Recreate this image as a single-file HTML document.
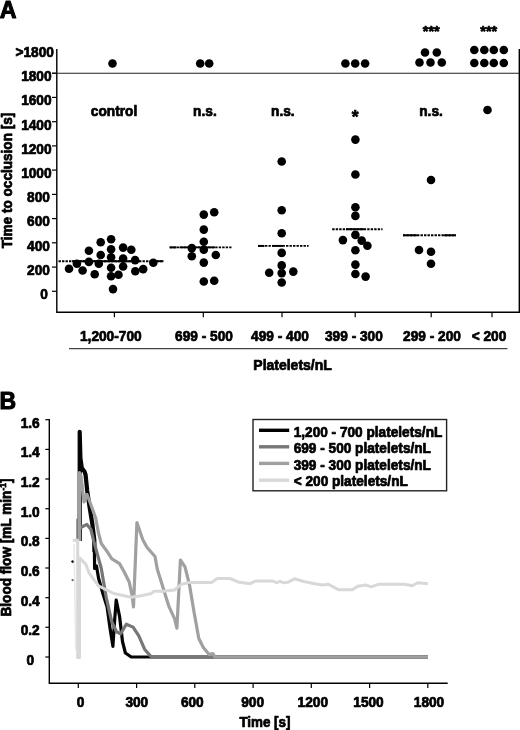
<!DOCTYPE html>
<html lang="en"><head><meta charset="utf-8"><title>Figure</title>
<style>
html,body{margin:0;padding:0;background:#fff;}
body{width:520px;height:730px;overflow:hidden;}
svg{display:block;}
text{font-family:"Liberation Sans",Arial,Helvetica,sans-serif;font-weight:bold;fill:#000;stroke:#000;stroke-width:0.7px;stroke-linejoin:round;}
.t{font-size:13.7px;}
.big{font-size:24px;stroke-width:1px;}
.ax{stroke:#000;stroke-width:1.4;fill:none;}
.tk{stroke:#000;stroke-width:1.2;fill:none;}
.med{stroke:#000;stroke-width:1.9;fill:none;}
.cv{fill:none;stroke-width:3.2;stroke-linejoin:round;stroke-linecap:butt;}
</style></head><body>
<svg width="520" height="730" viewBox="0 0 520 730">
<rect x="0" y="0" width="520" height="730" fill="#fff"/>
<g id="panelA">
<text class="big" text-anchor="start" transform="translate(-0.2 17.7) scale(1.0 1.0)" style="font-size:23.2px">A</text>
<path class="ax" d="M56.8 49 V312.3 H519.3 V49"/>
<path d="M52 73.2 H519" stroke="#222" stroke-width="1.1" fill="none"/>
<path class="tk" d="M52 291.3 H56.8"/>
<text class="t" text-anchor="end" transform="translate(47.8 299.1) scale(1.0 1.07)">0</text>
<path class="tk" d="M52 267.1 H56.8"/>
<text class="t" text-anchor="end" transform="translate(49.9 274.9) scale(1.0 1.07)">200</text>
<path class="tk" d="M52 242.8 H56.8"/>
<text class="t" text-anchor="end" transform="translate(49.9 250.6) scale(1.0 1.07)">400</text>
<path class="tk" d="M52 218.6 H56.8"/>
<text class="t" text-anchor="end" transform="translate(49.9 226.4) scale(1.0 1.07)">600</text>
<path class="tk" d="M52 194.4 H56.8"/>
<text class="t" text-anchor="end" transform="translate(49.9 202.2) scale(1.0 1.07)">800</text>
<path class="tk" d="M52 170.1 H56.8"/>
<text class="t" text-anchor="end" transform="translate(51.6 177.9) scale(1.0 1.07)">1000</text>
<path class="tk" d="M52 145.9 H56.8"/>
<text class="t" text-anchor="end" transform="translate(51.6 153.7) scale(1.0 1.07)">1200</text>
<path class="tk" d="M52 121.7 H56.8"/>
<text class="t" text-anchor="end" transform="translate(51.6 129.5) scale(1.0 1.07)">1400</text>
<path class="tk" d="M52 97.4 H56.8"/>
<text class="t" text-anchor="end" transform="translate(51.6 105.2) scale(1.0 1.07)">1600</text>
<path class="tk" d="M52 73.2 H56.8"/>
<text class="t" text-anchor="end" transform="translate(51.6 81.0) scale(1.0 1.07)">1800</text>
<text class="t" text-anchor="end" transform="translate(53.9 56.5) scale(1.0 1.07)">&gt;1800</text>
<text class="t" text-anchor="middle" transform="translate(12.0 180.5) rotate(-90) scale(1.0 1.07)" style="font-size:13.6px">Time to occlusion [s]</text>
<path class="tk" d="M114.4 312.3 V317.3"/>
<path class="tk" d="M203.3 312.3 V317.3"/>
<path class="tk" d="M282.0 312.3 V317.3"/>
<path class="tk" d="M355.2 312.3 V317.3"/>
<path class="tk" d="M431.2 312.3 V317.3"/>
<path class="tk" d="M492.0 312.3 V317.3"/>
<text class="t" text-anchor="middle" transform="translate(110.8 341.4) scale(1.0 1.07)">1,200-700</text>
<text class="t" text-anchor="middle" transform="translate(204.0 341.4) scale(1.0 1.07)">699 - 500</text>
<text class="t" text-anchor="middle" transform="translate(280.0 341.4) scale(1.0 1.07)">499 - 400</text>
<text class="t" text-anchor="middle" transform="translate(353.9 341.4) scale(1.0 1.07)">399 - 300</text>
<text class="t" text-anchor="middle" transform="translate(432.0 341.4) scale(1.0 1.07)">299 - 200</text>
<text class="t" text-anchor="middle" transform="translate(489.0 341.4) scale(1.0 1.07)">&lt; 200</text>
<path d="M69 348.6 H507.5" stroke="#444" stroke-width="1.1" fill="none"/>
<text class="t" text-anchor="start" transform="translate(253.3 369.9) scale(1.0 1.07)" style="font-size:14px">Platelets/nL</text>
<text class="t" text-anchor="middle" transform="translate(114.0 115.5) scale(1.0 1.07)">control</text>
<text class="t" text-anchor="middle" transform="translate(204.9 115.8) scale(1.0 1.07)">n.s.</text>
<text class="t" text-anchor="middle" transform="translate(282.8 115.8) scale(1.0 1.07)">n.s.</text>
<text class="t" text-anchor="middle" transform="translate(431.0 115.8) scale(1.0 1.07)">n.s.</text>
<text class="t" text-anchor="middle" transform="translate(355.1 122.6) scale(1.0 1.0)" style="font-size:17.5px">*</text>
<text class="t" text-anchor="middle" transform="translate(431.3 35.7) scale(1.0 1.0)" style="font-size:14.5px">***</text>
<text class="t" text-anchor="middle" transform="translate(488.8 35.7) scale(1.0 1.0)" style="font-size:14.5px">***</text>
<path class="med" d="M58.5 261.2 H163.5" stroke-dasharray="2.4 1.1"/>
<path class="med" d="M169.7 247.4 H231.5" stroke-dasharray="2.4 1.1"/>
<path class="med" d="M258.0 245.9 H308.6" stroke-dasharray="2.4 1.1"/>
<path class="med" d="M332.2 229.2 H382.5" stroke-dasharray="2.4 1.1"/>
<path class="med" d="M403.0 235.3 H456.0" stroke-dasharray="2.4 1.1"/>
<path class="med" d="M72.0 261.2 H140.0"/>
<path class="med" d="M156.0 261.2 H163.5"/>
<path class="med" d="M169.7 247.4 H176.5"/>
<path class="med" d="M179.5 247.4 H215.0"/>
<path class="med" d="M258.0 245.9 H264.5"/>
<path class="med" d="M272.0 245.9 H283.0"/>
<path class="med" d="M346.0 229.2 H364.0"/>
<path class="med" d="M403.0 235.3 H417.0"/>
<path class="med" d="M444.0 235.3 H456.0"/>
<g fill="#000">
<circle cx="69.0" cy="268.7" r="4.3"/>
<circle cx="76.9" cy="263.8" r="4.3"/>
<circle cx="82.6" cy="270.5" r="4.3"/>
<circle cx="88.9" cy="261.9" r="4.3"/>
<circle cx="88.9" cy="250.8" r="4.3"/>
<circle cx="94.7" cy="274.3" r="4.3"/>
<circle cx="98.8" cy="263.8" r="4.3"/>
<circle cx="100.7" cy="255.0" r="4.3"/>
<circle cx="100.7" cy="242.3" r="4.3"/>
<circle cx="111.1" cy="239.3" r="4.3"/>
<circle cx="111.1" cy="249.2" r="4.3"/>
<circle cx="111.1" cy="257.3" r="4.3"/>
<circle cx="111.1" cy="267.7" r="4.3"/>
<circle cx="111.1" cy="276.2" r="4.3"/>
<circle cx="113.0" cy="289.1" r="4.3"/>
<circle cx="118.5" cy="274.8" r="4.3"/>
<circle cx="123.1" cy="266.5" r="4.3"/>
<circle cx="123.1" cy="258.5" r="4.3"/>
<circle cx="123.1" cy="247.6" r="4.3"/>
<circle cx="131.3" cy="249.7" r="4.3"/>
<circle cx="135.1" cy="260.1" r="4.3"/>
<circle cx="135.3" cy="271.2" r="4.3"/>
<circle cx="143.2" cy="269.1" r="4.3"/>
<circle cx="153.3" cy="262.7" r="4.3"/>
<circle cx="112.5" cy="63.5" r="4.3"/>
<circle cx="203.8" cy="214.6" r="4.3"/>
<circle cx="214.2" cy="212.3" r="4.3"/>
<circle cx="203.8" cy="229.6" r="4.3"/>
<circle cx="203.8" cy="241.8" r="4.3"/>
<circle cx="191.8" cy="248.1" r="4.3"/>
<circle cx="203.8" cy="249.7" r="4.3"/>
<circle cx="191.8" cy="256.2" r="4.3"/>
<circle cx="215.8" cy="255.0" r="4.3"/>
<circle cx="203.8" cy="262.6" r="4.3"/>
<circle cx="203.8" cy="281.5" r="4.3"/>
<circle cx="214.2" cy="280.8" r="4.3"/>
<circle cx="200.2" cy="63.5" r="4.3"/>
<circle cx="209.2" cy="63.5" r="4.3"/>
<circle cx="281.7" cy="161.5" r="4.3"/>
<circle cx="281.7" cy="210.2" r="4.3"/>
<circle cx="281.7" cy="233.2" r="4.3"/>
<circle cx="281.7" cy="252.9" r="4.3"/>
<circle cx="281.7" cy="265.4" r="4.3"/>
<circle cx="269.2" cy="272.7" r="4.3"/>
<circle cx="281.7" cy="273.1" r="4.3"/>
<circle cx="293.3" cy="271.6" r="4.3"/>
<circle cx="281.7" cy="282.5" r="4.3"/>
<circle cx="355.4" cy="139.6" r="4.3"/>
<circle cx="355.4" cy="174.5" r="4.3"/>
<circle cx="355.4" cy="207.3" r="4.3"/>
<circle cx="355.4" cy="215.9" r="4.3"/>
<circle cx="355.4" cy="234.9" r="4.3"/>
<circle cx="342.9" cy="240.1" r="4.3"/>
<circle cx="361.7" cy="240.6" r="4.3"/>
<circle cx="367.4" cy="245.8" r="4.3"/>
<circle cx="355.4" cy="250.3" r="4.3"/>
<circle cx="355.4" cy="264.6" r="4.3"/>
<circle cx="355.4" cy="274.0" r="4.3"/>
<circle cx="365.6" cy="276.6" r="4.3"/>
<circle cx="345.4" cy="63.5" r="4.3"/>
<circle cx="355.2" cy="63.5" r="4.3"/>
<circle cx="365.1" cy="63.5" r="4.3"/>
<circle cx="431.0" cy="180.0" r="4.3"/>
<circle cx="419.0" cy="250.0" r="4.3"/>
<circle cx="431.0" cy="251.8" r="4.3"/>
<circle cx="431.0" cy="263.8" r="4.3"/>
<circle cx="425.0" cy="52.5" r="4.3"/>
<circle cx="436.8" cy="52.5" r="4.3"/>
<circle cx="419.5" cy="62.5" r="4.3"/>
<circle cx="430.5" cy="62.5" r="4.3"/>
<circle cx="441.8" cy="62.5" r="4.3"/>
<circle cx="487.5" cy="110.0" r="4.3"/>
<circle cx="474.3" cy="50.0" r="4.3"/>
<circle cx="474.3" cy="63.0" r="4.3"/>
<circle cx="484.3" cy="50.0" r="4.3"/>
<circle cx="484.3" cy="63.0" r="4.3"/>
<circle cx="493.8" cy="50.0" r="4.3"/>
<circle cx="493.8" cy="63.0" r="4.3"/>
<circle cx="503.8" cy="50.0" r="4.3"/>
<circle cx="503.8" cy="63.0" r="4.3"/>
</g>
</g>
<g id="panelB">
<text class="big" text-anchor="start" transform="translate(-0.6 408.8) scale(1.0 1.0)" style="font-size:23px">B</text>
<path class="ax" d="M49.3 419 V683.2 H447.7"/>
<path class="tk" d="M45.3 657.0 H49.3"/>
<text class="t" text-anchor="middle" transform="translate(30.4 664.8) scale(1.0 1.07)">0</text>
<path class="tk" d="M45.3 627.3 H49.3"/>
<text class="t" text-anchor="end" transform="translate(39.7 635.1) scale(1.0 1.07)">0.2</text>
<path class="tk" d="M45.3 597.7 H49.3"/>
<text class="t" text-anchor="end" transform="translate(39.7 605.5) scale(1.0 1.07)">0.4</text>
<path class="tk" d="M45.3 568.0 H49.3"/>
<text class="t" text-anchor="end" transform="translate(39.7 575.8) scale(1.0 1.07)">0.6</text>
<path class="tk" d="M45.3 538.4 H49.3"/>
<text class="t" text-anchor="end" transform="translate(39.7 546.2) scale(1.0 1.07)">0.8</text>
<path class="tk" d="M45.3 508.7 H49.3"/>
<text class="t" text-anchor="end" transform="translate(39.7 516.5) scale(1.0 1.07)">1.0</text>
<path class="tk" d="M45.3 479.0 H49.3"/>
<text class="t" text-anchor="end" transform="translate(39.7 486.8) scale(1.0 1.07)">1.2</text>
<path class="tk" d="M45.3 449.4 H49.3"/>
<text class="t" text-anchor="end" transform="translate(39.7 457.2) scale(1.0 1.07)">1.4</text>
<path class="tk" d="M45.3 419.7 H49.3"/>
<text class="t" text-anchor="end" transform="translate(39.7 427.5) scale(1.0 1.07)">1.6</text>
<text class="t" text-anchor="middle" transform="translate(10.8 547.5) rotate(-90) scale(1.0 1.07)" style="font-size:13.6px">Blood flow [mL min<tspan font-size="8.5" dy="-4.5">-1</tspan><tspan dy="4.5">]</tspan></text>
<path class="tk" d="M78.3 683.2 V688"/>
<text class="t" text-anchor="middle" transform="translate(80.5 707.0) scale(1.0 1.07)">0</text>
<path class="tk" d="M136.6 683.2 V688"/>
<text class="t" text-anchor="middle" transform="translate(136.8 707.0) scale(1.0 1.07)">300</text>
<path class="tk" d="M194.8 683.2 V688"/>
<text class="t" text-anchor="middle" transform="translate(192.3 707.0) scale(1.0 1.07)">600</text>
<path class="tk" d="M253.1 683.2 V688"/>
<text class="t" text-anchor="middle" transform="translate(252.6 707.0) scale(1.0 1.07)">900</text>
<path class="tk" d="M311.3 683.2 V688"/>
<text class="t" text-anchor="middle" transform="translate(312.8 707.0) scale(1.0 1.07)">1200</text>
<path class="tk" d="M369.6 683.2 V688"/>
<text class="t" text-anchor="middle" transform="translate(368.5 707.0) scale(1.0 1.07)">1500</text>
<path class="tk" d="M427.8 683.2 V688"/>
<text class="t" text-anchor="middle" transform="translate(429.0 707.0) scale(1.0 1.07)">1800</text>
<text class="t" text-anchor="start" transform="translate(239.4 727.0) scale(1.0 1.07)" style="font-size:13.4px">Time [s]</text>
<circle cx="72.6" cy="561.6" r="1.2" fill="#111"/>
<path class="cv" stroke="#050505" style="stroke-width:4.2" d="M79.7 541.0 L79.7 431.8 L80.4 458.0 L81.8 468.0 L84.6 471.8 L85.6 475.0 L87.2 490.8 L89.6 507.2 L92.3 523.7 L94.3 540.1 L94.5 552.0"/>
<path class="cv" stroke="#050505" d="M94.3 540.1 L94.6 568.5 L96.5 566.0 L98.5 578.0 L103.0 594.0 L107.1 607.0 L110.0 628.0 L112.9 646.3 L114.5 622.0 L116.2 600.2 L119.6 616.5 L122.5 641.5 L125.4 653.0 L131.2 657.0 L427.9 657.0"/>
<path class="cv" stroke="#777" d="M77.9 541.0 L77.9 519.6 L79.5 527.5 L81.2 527.3 L86.9 524.4 L90.8 529.2 L93.7 540.8 L101.3 568.5 L106.2 597.3 L111.9 622.3 L116.7 632.0 L120.6 633.8 L126.3 624.2 L133.1 627.1 L138.8 635.8 L144.6 649.2 L150.4 656.0 L153.0 657.0 L427.9 657.0"/>
<path class="cv" stroke="#a0a0a0" d="M79.4 541.0 L79.4 472.5 L81.0 476.0 L84.0 502.0 L87.0 494.6 L89.9 502.0 L95.6 517.7 L98.5 533.0 L101.3 543.5 L106.2 550.2 L111.9 558.8 L119.6 563.7 L124.4 572.3 L129.2 582.0 L132.1 595.4 L133.5 607.0 L136.9 522.5 L142.7 539.6 L146.9 547.3 L155.0 556.5 L157.3 569.2 L163.1 587.7 L168.8 606.2 L174.6 618.8 L176.9 628.1 L180.4 560.0 L185.0 566.9 L189.6 585.4 L194.2 613.1 L198.8 638.5 L203.5 647.7 L209.2 654.6 L212.7 653.5 L215.0 657.0 L427.9 657.0"/>
<path d="M74 544 L75.8 650" stroke="#e9e9e9" stroke-width="1.6" fill="none"/>
<path class="cv" stroke="#d8d8d8" style="stroke-width:3" d="M72.8 540.3 L77.7 540.3 L77.7 657.5 L79.5 657.5 L79.5 557.9 L80.0 558.3 L85.8 564.2 L89.2 573.2 L98.5 585.8 L113.8 593.5 L131.2 597.3 L142.7 595.4 L151.5 593.5 L153.8 591.2 L163.0 591.2 L174.6 590.0 L181.5 584.2 L188.5 582.6 L211.5 582.6 L217.3 578.5 L230.0 578.5 L238.0 581.9 L250.0 583.7 L255.4 581.0 L272.9 581.0 L276.9 582.8 L279.6 581.2 L283.7 582.8 L287.7 582.3 L294.4 578.8 L303.9 581.5 L314.6 583.7 L322.7 585.0 L328.0 584.2 L338.9 589.8 L352.3 589.8 L357.7 586.3 L365.8 585.0 L371.2 586.9 L379.2 584.2 L404.2 584.2 L412.3 585.8 L417.7 582.8 L427.9 583.7"/>
<circle cx="72.6" cy="561.6" r="1.1" fill="#111"/>
<circle cx="72.6" cy="580.2" r="1.1" fill="#666"/>
<rect x="253" y="419.5" width="193.6" height="71.3" fill="#fff" stroke="#222" stroke-width="1.4"/>
<path d="M259 430.3 H289.2" stroke="#000" stroke-width="3.4" fill="none"/>
<text class="t" text-anchor="start" transform="translate(293.7 437.3) scale(1.0 1.07)" style="font-size:13.65px">1,200 - 700 platelets/nL</text>
<path d="M259 446.8 H289.2" stroke="#777" stroke-width="3.4" fill="none"/>
<text class="t" text-anchor="start" transform="translate(293.7 453.4) scale(1.0 1.07)" style="font-size:13.65px">699 - 500 platelets/nL</text>
<path d="M259 463.4 H289.2" stroke="#a0a0a0" stroke-width="3.4" fill="none"/>
<text class="t" text-anchor="start" transform="translate(293.7 469.5) scale(1.0 1.07)" style="font-size:13.65px">399 - 300 platelets/nL</text>
<path d="M259 480.2 H289.2" stroke="#d8d8d8" stroke-width="3.4" fill="none"/>
<text class="t" text-anchor="start" transform="translate(293.7 485.6) scale(1.0 1.07)" style="font-size:13.65px">&lt; 200 platelets/nL</text>
</g>
</svg>
</body></html>
